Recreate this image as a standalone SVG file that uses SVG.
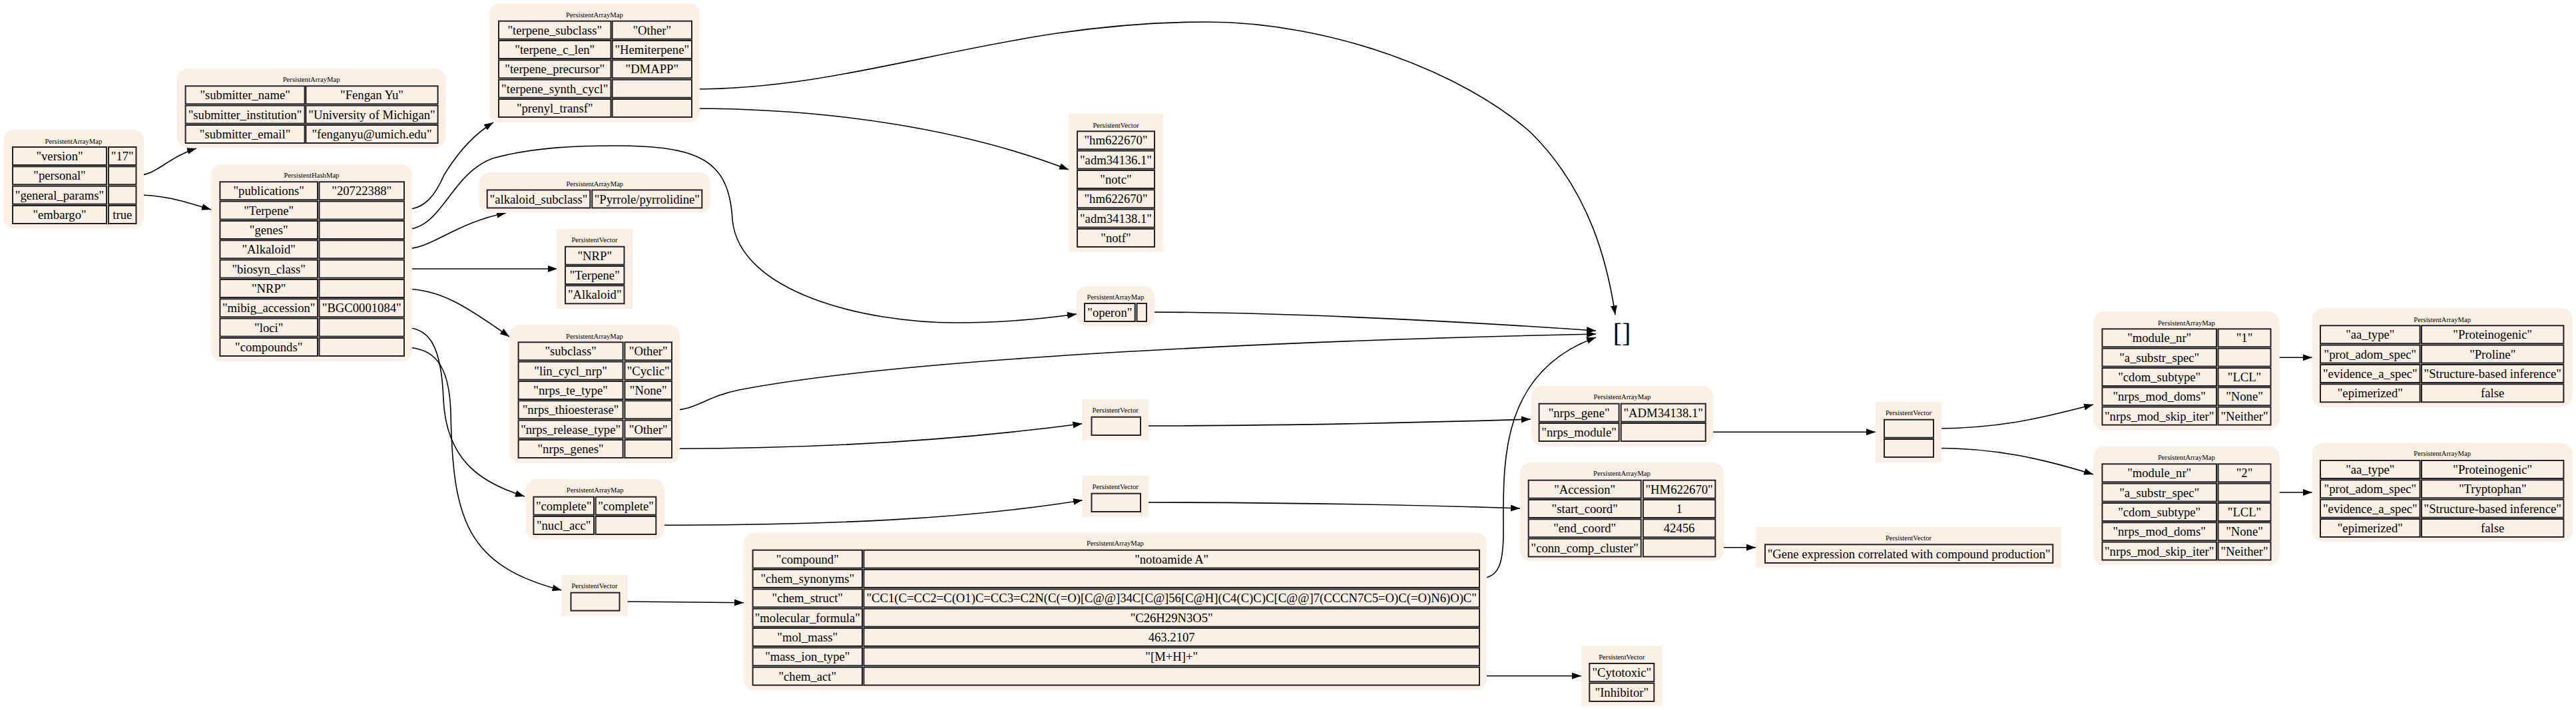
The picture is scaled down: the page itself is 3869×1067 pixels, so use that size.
<svg xmlns="http://www.w3.org/2000/svg" width="3869" height="1067" viewBox="0 0 3869 1067">
<style>
.bg{fill:#faf0e6}
.c{fill:#faf0e6;stroke:#222;stroke-width:2}
.t{font-family:"Liberation Serif","Times New Roman",serif;font-size:18.67px;text-anchor:middle;fill:#000}
.h{font-family:"Liberation Serif","Times New Roman",serif;font-size:10.67px;text-anchor:middle;fill:#000}
.e{fill:none;stroke:#000;stroke-width:1.6;marker-end:url(#a)}
</style>
<defs>
<marker id="a" markerUnits="userSpaceOnUse" markerWidth="16" markerHeight="12" refX="14" refY="5" orient="auto">
<path d="M0,0 L14,5 L0,10 z" fill="#000"/>
</marker>
</defs>
<rect width="3869" height="1067" fill="#fff"/>

<g id="connectors">
<path class="e" d="M204.5,264 C235,264 252,236 295,223"/>
<path class="e" d="M204.5,293 C250,293 280,304 317,315"/>
<path class="e" d="M607,315 C640,315 655,290 667,263 C690,225 715,200 741,184"/>
<path class="e" d="M607,345 C665,345 675,262 740,238 C800,221 870,219 923,219 C1050,219 1095,240 1100,330 C1110,440 1300,485 1436,485 C1500,485 1560,480 1617,472"/>
<path class="e" d="M607,374 C650,374 680,336 760,320"/>
<path class="e" d="M607,404 L837,404"/>
<path class="e" d="M607,434 C660,434 700,460 765,506"/>
<path class="e" d="M607,492 C645,492 663,520 666,600 C670,690 720,725 788,746"/>
<path class="e" d="M607,522 C650,522 675,545 677,620 C680,780 700,850 843.5,887"/>
<path class="e" d="M1039,134 C1300,134 1500,33 1812,33 C2000,33 2200,110 2300,200 C2390,290 2415,400 2426,473"/>
<path class="e" d="M1039,163 C1250,163 1450,195 1605,255"/>
<path class="e" d="M1009,616.5 C1045,616.5 1060,596 1110,586 C1400,530 2100,508 2397,502"/>
<path class="e" d="M1009,674.3 C1250,674.3 1450,660 1625.4,636.7"/>
<path class="e" d="M985.3,789.3 C1250,789.3 1450,780 1626,751.7"/>
<path class="e" d="M930.5,904 L1117,905.7"/>
<path class="e" d="M1722,469 C1900,469 2150,480 2397,497"/>
<path class="e" d="M2222,869.3 C2252,869.3 2258,845 2258,800 C2258,700 2250,560 2397,507"/>
<path class="e" d="M1713,640 C1900,640 2100,636 2299,630"/>
<path class="e" d="M1713,755 C1900,755 2100,758 2283,764"/>
<path class="e" d="M2222,1015.7 L2375,1015.7"/>
<path class="e" d="M2561.6,649.3 L2817,649.3"/>
<path class="e" d="M2576.3,822.7 L2637,822.7"/>
<path class="e" d="M2904,644 C3000,644 3060,630 3144,608"/>
<path class="e" d="M2904,673.3 C3000,673.3 3070,690 3144,713"/>
<path class="e" d="M3410.4,537.3 L3472.7,537.3"/>
<path class="e" d="M3410.4,740 L3472.7,740"/>
</g>

<g id="root">
<rect class="bg" x="5" y="195" width="211" height="148" rx="16"/>
<text class="h" x="110.5" y="215.5">PersistentArrayMap</text>
<rect class="c" x="19" y="221" width="141" height="27"/><text class="t" x="89.5" y="241">"version"</text>
<rect class="c" x="163" y="221" width="41.5" height="27"/><text class="t" x="183.75" y="241">"17"</text>
<rect class="c" x="19" y="250.3" width="141" height="27"/><text class="t" x="89.5" y="270.3">"personal"</text>
<rect class="c" x="163" y="250.3" width="41.5" height="27"/>
<rect class="c" x="19" y="279.7" width="141" height="27"/><text class="t" x="89.5" y="299.7">"general_params"</text>
<rect class="c" x="163" y="279.7" width="41.5" height="27"/>
<rect class="c" x="19" y="309" width="141" height="27"/><text class="t" x="89.5" y="329">"embargo"</text>
<rect class="c" x="163" y="309" width="41.5" height="27"/><text class="t" x="183.75" y="329">true</text>
</g>

<g id="personal">
<rect class="bg" x="265.6" y="103" width="404" height="119" rx="16"/>
<text class="h" x="467.6" y="123">PersistentArrayMap</text>
<rect class="c" x="278.6" y="129.3" width="179" height="27"/><text class="t" x="368.1" y="149.3">"submitter_name"</text>
<rect class="c" x="459.4" y="129.3" width="198.2" height="27"/><text class="t" x="558.5" y="149.3">"Fengan Yu"</text>
<rect class="c" x="278.6" y="158.6" width="179" height="27"/><text class="t" x="368.1" y="178.6">"submitter_institution"</text>
<rect class="c" x="459.4" y="158.6" width="198.2" height="27"/><text class="t" x="558.5" y="178.6">"University of Michigan"</text>
<rect class="c" x="278.6" y="188" width="179" height="27"/><text class="t" x="368.1" y="208">"submitter_email"</text>
<rect class="c" x="459.4" y="188" width="198.2" height="27"/><text class="t" x="558.5" y="208">"fenganyu@umich.edu"</text>
</g>

<g id="general_params">
<rect class="bg" x="317" y="247.3" width="302" height="295.4" rx="16"/>
<text class="h" x="468" y="266.8">PersistentHashMap</text>
<rect class="c" x="330.4" y="273.3" width="146.6" height="27"/><text class="t" x="403.7" y="293.3">"publications"</text>
<rect class="c" x="479.5" y="273.3" width="127.5" height="27"/><text class="t" x="543.25" y="293.3">"20722388"</text>
<rect class="c" x="330.4" y="302.6" width="146.6" height="27"/><text class="t" x="403.7" y="322.6">"Terpene"</text>
<rect class="c" x="479.5" y="302.6" width="127.5" height="27"/>
<rect class="c" x="330.4" y="332" width="146.6" height="27"/><text class="t" x="403.7" y="352">"genes"</text>
<rect class="c" x="479.5" y="332" width="127.5" height="27"/>
<rect class="c" x="330.4" y="361.3" width="146.6" height="27"/><text class="t" x="403.7" y="381.3">"Alkaloid"</text>
<rect class="c" x="479.5" y="361.3" width="127.5" height="27"/>
<rect class="c" x="330.4" y="390.6" width="146.6" height="27"/><text class="t" x="403.7" y="410.6">"biosyn_class"</text>
<rect class="c" x="479.5" y="390.6" width="127.5" height="27"/>
<rect class="c" x="330.4" y="420" width="146.6" height="27"/><text class="t" x="403.7" y="440">"NRP"</text>
<rect class="c" x="479.5" y="420" width="127.5" height="27"/>
<rect class="c" x="330.4" y="449.3" width="146.6" height="27"/><text class="t" x="403.7" y="469.3">"mibig_accession"</text>
<rect class="c" x="479.5" y="449.3" width="127.5" height="27"/><text class="t" x="543.25" y="469.3">"BGC0001084"</text>
<rect class="c" x="330.4" y="478.6" width="146.6" height="27"/><text class="t" x="403.7" y="498.6">"loci"</text>
<rect class="c" x="479.5" y="478.6" width="127.5" height="27"/>
<rect class="c" x="330.4" y="508" width="146.6" height="27"/><text class="t" x="403.7" y="528">"compounds"</text>
<rect class="c" x="479.5" y="508" width="127.5" height="27"/>
</g>

<g id="terpene">
<rect class="bg" x="735" y="5" width="316" height="179" rx="16"/>
<text class="h" x="893" y="25.5">PersistentArrayMap</text>
<rect class="c" x="749" y="31.7" width="168.5" height="27"/><text class="t" x="833.25" y="51.7">"terpene_subclass"</text>
<rect class="c" x="919.6" y="31.7" width="119.4" height="27"/><text class="t" x="979.3" y="51.7">"Other"</text>
<rect class="c" x="749" y="61" width="168.5" height="27"/><text class="t" x="833.25" y="81">"terpene_c_len"</text>
<rect class="c" x="919.6" y="61" width="119.4" height="27"/><text class="t" x="979.3" y="81">"Hemiterpene"</text>
<rect class="c" x="749" y="90.3" width="168.5" height="27"/><text class="t" x="833.25" y="110.3">"terpene_precursor"</text>
<rect class="c" x="919.6" y="90.3" width="119.4" height="27"/><text class="t" x="979.3" y="110.3">"DMAPP"</text>
<rect class="c" x="749" y="119.7" width="168.5" height="27"/><text class="t" x="833.25" y="139.7">"terpene_synth_cycl"</text>
<rect class="c" x="919.6" y="119.7" width="119.4" height="27"/>
<rect class="c" x="749" y="149" width="168.5" height="27"/><text class="t" x="833.25" y="169">"prenyl_transf"</text>
<rect class="c" x="919.6" y="149" width="119.4" height="27"/>
</g>

<g id="alkaloid">
<rect class="bg" x="719.5" y="259.3" width="347.5" height="60.7" rx="16"/>
<text class="h" x="893.3" y="279.5">PersistentArrayMap</text>
<rect class="c" x="731.7" y="285.5" width="154.6" height="27"/><text class="t" x="809" y="305.5">"alkaloid_subclass"</text>
<rect class="c" x="889.3" y="285.5" width="165" height="27"/><text class="t" x="971.8" y="305.5">"Pyrrole/pyrrolidine"</text>
</g>

<g id="biosyn_class">
<rect class="bg" x="835.7" y="344.3" width="114.7" height="119.7"/>
<text class="h" x="893" y="364.2">PersistentVector</text>
<rect class="c" x="849" y="370.7" width="88.5" height="27"/><text class="t" x="893.25" y="390.7">"NRP"</text>
<rect class="c" x="849" y="400" width="88.5" height="27"/><text class="t" x="893.25" y="420">"Terpene"</text>
<rect class="c" x="849" y="429.3" width="88.5" height="27"/><text class="t" x="893.25" y="449.3">"Alkaloid"</text>
</g>

<g id="nrp">
<rect class="bg" x="765" y="488.3" width="256" height="207.7" rx="16"/>
<text class="h" x="893" y="508.5">PersistentArrayMap</text>
<rect class="c" x="778.6" y="514.3" width="157" height="27"/><text class="t" x="857.1" y="534.3">"subclass"</text>
<rect class="c" x="938.4" y="514.3" width="70.6" height="27"/><text class="t" x="973.7" y="534.3">"Other"</text>
<rect class="c" x="778.6" y="543.6" width="157" height="27"/><text class="t" x="857.1" y="563.6">"lin_cycl_nrp"</text>
<rect class="c" x="938.4" y="543.6" width="70.6" height="27"/><text class="t" x="973.7" y="563.6">"Cyclic"</text>
<rect class="c" x="778.6" y="573" width="157" height="27"/><text class="t" x="857.1" y="593">"nrps_te_type"</text>
<rect class="c" x="938.4" y="573" width="70.6" height="27"/><text class="t" x="973.7" y="593">"None"</text>
<rect class="c" x="778.6" y="602.3" width="157" height="27"/><text class="t" x="857.1" y="622.3">"nrps_thioesterase"</text>
<rect class="c" x="938.4" y="602.3" width="70.6" height="27"/>
<rect class="c" x="778.6" y="631.6" width="157" height="27"/><text class="t" x="857.1" y="651.6">"nrps_release_type"</text>
<rect class="c" x="938.4" y="631.6" width="70.6" height="27"/><text class="t" x="973.7" y="651.6">"Other"</text>
<rect class="c" x="778.6" y="661" width="157" height="27"/><text class="t" x="857.1" y="681">"nrps_genes"</text>
<rect class="c" x="938.4" y="661" width="70.6" height="27"/>
</g>

<g id="loci">
<rect class="bg" x="789.5" y="720" width="208.5" height="90.7" rx="16"/>
<text class="h" x="893.75" y="740.2">PersistentArrayMap</text>
<rect class="c" x="801.4" y="746.7" width="90.6" height="27"/><text class="t" x="846.7" y="766.7">"complete"</text>
<rect class="c" x="894.7" y="746.7" width="90.6" height="27"/><text class="t" x="940" y="766.7">"complete"</text>
<rect class="c" x="801.4" y="776" width="90.6" height="27"/><text class="t" x="846.7" y="796">"nucl_acc"</text>
<rect class="c" x="894.7" y="776" width="90.6" height="27"/>
</g>

<g id="compounds_vec">
<rect class="bg" x="843.5" y="864.3" width="99" height="61.4"/>
<text class="h" x="893" y="884.2">PersistentVector</text>
<rect class="c" x="857.5" y="890.7" width="73" height="27"/>
</g>

<g id="genes_vec">
<rect class="bg" x="1605" y="171" width="142" height="207.6"/>
<text class="h" x="1676" y="191.8">PersistentVector</text>
<rect class="c" x="1618" y="197.3" width="116" height="27"/><text class="t" x="1676" y="217.3">"hm622670"</text>
<rect class="c" x="1618" y="226.6" width="116" height="27"/><text class="t" x="1676" y="246.6">"adm34136.1"</text>
<rect class="c" x="1618" y="256" width="116" height="27"/><text class="t" x="1676" y="276">"notc"</text>
<rect class="c" x="1618" y="285.3" width="116" height="27"/><text class="t" x="1676" y="305.3">"hm622670"</text>
<rect class="c" x="1618" y="314.6" width="116" height="27"/><text class="t" x="1676" y="334.6">"adm34138.1"</text>
<rect class="c" x="1618" y="344" width="116" height="27"/><text class="t" x="1676" y="364">"notf"</text>
</g>

<g id="operon">
<rect class="bg" x="1617" y="430" width="117" height="60.7" rx="16"/>
<text class="h" x="1675.5" y="449.5">PersistentArrayMap</text>
<rect class="c" x="1629" y="456" width="75.7" height="27"/><text class="t" x="1666.85" y="476">"operon"</text>
<rect class="c" x="1707.5" y="456" width="14.5" height="27"/>
</g>

<g id="nrps_genes_vec">
<rect class="bg" x="1625.4" y="600" width="99.6" height="61.7"/>
<text class="h" x="1675.2" y="620.2">PersistentVector</text>
<rect class="c" x="1639.5" y="626.7" width="73.5" height="27.3"/>
</g>

<g id="nucl_acc_vec">
<rect class="bg" x="1625.4" y="715" width="99.6" height="61.7"/>
<text class="h" x="1675.2" y="735.2">PersistentVector</text>
<rect class="c" x="1639.5" y="741.7" width="73.5" height="27.3"/>
</g>

<g id="compound">
<rect class="bg" x="1117" y="800.5" width="1116" height="237" rx="16"/>
<text class="h" x="1675" y="820.2">PersistentArrayMap</text>
<rect class="c" x="1130.6" y="826.7" width="164.4" height="27"/><text class="t" x="1212.8" y="846.7">"compound"</text>
<rect class="c" x="1297.4" y="826.7" width="924.6" height="27"/><text class="t" x="1759.7" y="846.7">"notoamide A"</text>
<rect class="c" x="1130.6" y="856" width="164.4" height="27"/><text class="t" x="1212.8" y="876">"chem_synonyms"</text>
<rect class="c" x="1297.4" y="856" width="924.6" height="27"/>
<rect class="c" x="1130.6" y="885.4" width="164.4" height="27"/><text class="t" x="1212.8" y="905.4">"chem_struct"</text>
<rect class="c" x="1297.4" y="885.4" width="924.6" height="27"/><text class="t" x="1759.7" y="905.4">"CC1(C=CC2=C(O1)C=CC3=C2N(C(=O)[C@@]34C[C@]56[C@H](C4(C)C)C[C@@]7(CCCN7C5=O)C(=O)N6)O)C"</text>
<rect class="c" x="1130.6" y="914.7" width="164.4" height="27"/><text class="t" x="1212.8" y="934.7">"molecular_formula"</text>
<rect class="c" x="1297.4" y="914.7" width="924.6" height="27"/><text class="t" x="1759.7" y="934.7">"C26H29N3O5"</text>
<rect class="c" x="1130.6" y="944" width="164.4" height="27"/><text class="t" x="1212.8" y="964">"mol_mass"</text>
<rect class="c" x="1297.4" y="944" width="924.6" height="27"/><text class="t" x="1759.7" y="964">463.2107</text>
<rect class="c" x="1130.6" y="973.4" width="164.4" height="27"/><text class="t" x="1212.8" y="993.4">"mass_ion_type"</text>
<rect class="c" x="1297.4" y="973.4" width="924.6" height="27"/><text class="t" x="1759.7" y="993.4">"[M+H]+"</text>
<rect class="c" x="1130.6" y="1002.7" width="164.4" height="27"/><text class="t" x="1212.8" y="1022.7">"chem_act"</text>
<rect class="c" x="1297.4" y="1002.7" width="924.6" height="27"/>
</g>

<g id="empty">
<text x="2436" y="514" style="font-family:'Liberation Serif','Times New Roman',serif;font-size:40px;text-anchor:middle">[]</text>
</g>

<g id="nrps_gene">
<rect class="bg" x="2300" y="580" width="273" height="90.7" rx="16"/>
<text class="h" x="2436.5" y="600.2">PersistentArrayMap</text>
<rect class="c" x="2311.6" y="606.7" width="120" height="27"/><text class="t" x="2371.6" y="626.7">"nrps_gene"</text>
<rect class="c" x="2434.7" y="606.7" width="127" height="27"/><text class="t" x="2498.2" y="626.7">"ADM34138.1"</text>
<rect class="c" x="2311.6" y="636" width="120" height="27"/><text class="t" x="2371.6" y="656">"nrps_module"</text>
<rect class="c" x="2434.7" y="636" width="127" height="27"/>
</g>

<g id="module_vec">
<rect class="bg" x="2816.7" y="604" width="99.5" height="91"/>
<text class="h" x="2866.5" y="624.2">PersistentVector</text>
<rect class="c" x="2830" y="630.7" width="74" height="27"/>
<rect class="c" x="2830" y="660" width="74" height="27"/>
</g>

<g id="accession">
<rect class="bg" x="2283" y="695" width="306" height="148.3" rx="16"/>
<text class="h" x="2436" y="715.2">PersistentArrayMap</text>
<rect class="c" x="2295.7" y="721.7" width="169" height="27"/><text class="t" x="2380.2" y="741.7">"Accession"</text>
<rect class="c" x="2467.9" y="721.7" width="108.4" height="27"/><text class="t" x="2522.1" y="741.7">"HM622670"</text>
<rect class="c" x="2295.7" y="751" width="169" height="27"/><text class="t" x="2380.2" y="771">"start_coord"</text>
<rect class="c" x="2467.9" y="751" width="108.4" height="27"/><text class="t" x="2522.1" y="771">1</text>
<rect class="c" x="2295.7" y="780.3" width="169" height="27"/><text class="t" x="2380.2" y="800.3">"end_coord"</text>
<rect class="c" x="2467.9" y="780.3" width="108.4" height="27"/><text class="t" x="2522.1" y="800.3">42456</text>
<rect class="c" x="2295.7" y="809.6" width="169" height="27"/><text class="t" x="2380.2" y="829.6">"conn_comp_cluster"</text>
<rect class="c" x="2467.9" y="809.6" width="108.4" height="27"/>
</g>

<g id="gene_expr">
<rect class="bg" x="2637" y="791.7" width="459" height="61.6"/>
<text class="h" x="2866.5" y="811.8">PersistentVector</text>
<rect class="c" x="2651" y="818.3" width="432.3" height="27.7"/><text class="t" x="2867.15" y="838.6">"Gene expression correlated with compound production"</text>
</g>

<g id="chem_act">
<rect class="bg" x="2375" y="971" width="121.7" height="90.7"/>
<text class="h" x="2435.8" y="990.8">PersistentVector</text>
<rect class="c" x="2387.3" y="997" width="97" height="27.3"/><text class="t" x="2435.8" y="1017.2">"Cytotoxic"</text>
<rect class="c" x="2387.3" y="1026.7" width="97" height="27.3"/><text class="t" x="2435.8" y="1046.9">"Inhibitor"</text>
</g>

<g id="module1">
<rect class="bg" x="3144" y="468.3" width="279.7" height="178.4" rx="16"/>
<text class="h" x="3283.85" y="488.5">PersistentArrayMap</text>
<rect class="c" x="3157.4" y="494.3" width="171.6" height="27"/><text class="t" x="3243.2" y="514.3">"module_nr"</text>
<rect class="c" x="3331.5" y="494.3" width="79" height="27"/><text class="t" x="3371" y="514.3">"1"</text>
<rect class="c" x="3157.4" y="523.6" width="171.6" height="27"/><text class="t" x="3243.2" y="543.6">"a_substr_spec"</text>
<rect class="c" x="3331.5" y="523.6" width="79" height="27"/>
<rect class="c" x="3157.4" y="553" width="171.6" height="27"/><text class="t" x="3243.2" y="573">"cdom_subtype"</text>
<rect class="c" x="3331.5" y="553" width="79" height="27"/><text class="t" x="3371" y="573">"LCL"</text>
<rect class="c" x="3157.4" y="582.3" width="171.6" height="27"/><text class="t" x="3243.2" y="602.3">"nrps_mod_doms"</text>
<rect class="c" x="3331.5" y="582.3" width="79" height="27"/><text class="t" x="3371" y="602.3">"None"</text>
<rect class="c" x="3157.4" y="611.6" width="171.6" height="27"/><text class="t" x="3243.2" y="631.6">"nrps_mod_skip_iter"</text>
<rect class="c" x="3331.5" y="611.6" width="79" height="27"/><text class="t" x="3371" y="631.6">"Neither"</text>
</g>

<g id="module2">
<rect class="bg" x="3144" y="671" width="279.7" height="178.3" rx="16"/>
<text class="h" x="3283.85" y="691.2">PersistentArrayMap</text>
<rect class="c" x="3157.4" y="697.3" width="171.6" height="27"/><text class="t" x="3243.2" y="717.3">"module_nr"</text>
<rect class="c" x="3331.5" y="697.3" width="79" height="27"/><text class="t" x="3371" y="717.3">"2"</text>
<rect class="c" x="3157.4" y="726.6" width="171.6" height="27"/><text class="t" x="3243.2" y="746.6">"a_substr_spec"</text>
<rect class="c" x="3331.5" y="726.6" width="79" height="27"/>
<rect class="c" x="3157.4" y="756" width="171.6" height="27"/><text class="t" x="3243.2" y="776">"cdom_subtype"</text>
<rect class="c" x="3331.5" y="756" width="79" height="27"/><text class="t" x="3371" y="776">"LCL"</text>
<rect class="c" x="3157.4" y="785.3" width="171.6" height="27"/><text class="t" x="3243.2" y="805.3">"nrps_mod_doms"</text>
<rect class="c" x="3331.5" y="785.3" width="79" height="27"/><text class="t" x="3371" y="805.3">"None"</text>
<rect class="c" x="3157.4" y="814.6" width="171.6" height="27"/><text class="t" x="3243.2" y="834.6">"nrps_mod_skip_iter"</text>
<rect class="c" x="3331.5" y="814.6" width="79" height="27"/><text class="t" x="3371" y="834.6">"Neither"</text>
</g>

<g id="aa1">
<rect class="bg" x="3472.7" y="463.3" width="391" height="148.4" rx="16"/>
<text class="h" x="3668.2" y="483.5">PersistentArrayMap</text>
<rect class="c" x="3485" y="489.3" width="149.6" height="27"/><text class="t" x="3559.8" y="509.3">"aa_type"</text>
<rect class="c" x="3637" y="489.3" width="213.4" height="27"/><text class="t" x="3743.7" y="509.3">"Proteinogenic"</text>
<rect class="c" x="3485" y="518.6" width="149.6" height="27"/><text class="t" x="3559.8" y="538.6">"prot_adom_spec"</text>
<rect class="c" x="3637" y="518.6" width="213.4" height="27"/><text class="t" x="3743.7" y="538.6">"Proline"</text>
<rect class="c" x="3485" y="548" width="149.6" height="27"/><text class="t" x="3559.8" y="568">"evidence_a_spec"</text>
<rect class="c" x="3637" y="548" width="213.4" height="27"/><text class="t" x="3743.7" y="568">"Structure-based inference"</text>
<rect class="c" x="3485" y="577.3" width="149.6" height="27"/><text class="t" x="3559.8" y="597.3">"epimerized"</text>
<rect class="c" x="3637" y="577.3" width="213.4" height="27"/><text class="t" x="3743.7" y="597.3">false</text>
</g>

<g id="aa2">
<rect class="bg" x="3472.7" y="666" width="391" height="148" rx="16"/>
<text class="h" x="3668.2" y="685.2">PersistentArrayMap</text>
<rect class="c" x="3485" y="692" width="149.6" height="27"/><text class="t" x="3559.8" y="712">"aa_type"</text>
<rect class="c" x="3637" y="692" width="213.4" height="27"/><text class="t" x="3743.7" y="712">"Proteinogenic"</text>
<rect class="c" x="3485" y="721.3" width="149.6" height="27"/><text class="t" x="3559.8" y="741.3">"prot_adom_spec"</text>
<rect class="c" x="3637" y="721.3" width="213.4" height="27"/><text class="t" x="3743.7" y="741.3">"Tryptophan"</text>
<rect class="c" x="3485" y="750.7" width="149.6" height="27"/><text class="t" x="3559.8" y="770.7">"evidence_a_spec"</text>
<rect class="c" x="3637" y="750.7" width="213.4" height="27"/><text class="t" x="3743.7" y="770.7">"Structure-based inference"</text>
<rect class="c" x="3485" y="780" width="149.6" height="27"/><text class="t" x="3559.8" y="800">"epimerized"</text>
<rect class="c" x="3637" y="780" width="213.4" height="27"/><text class="t" x="3743.7" y="800">false</text>
</g>
</svg>
